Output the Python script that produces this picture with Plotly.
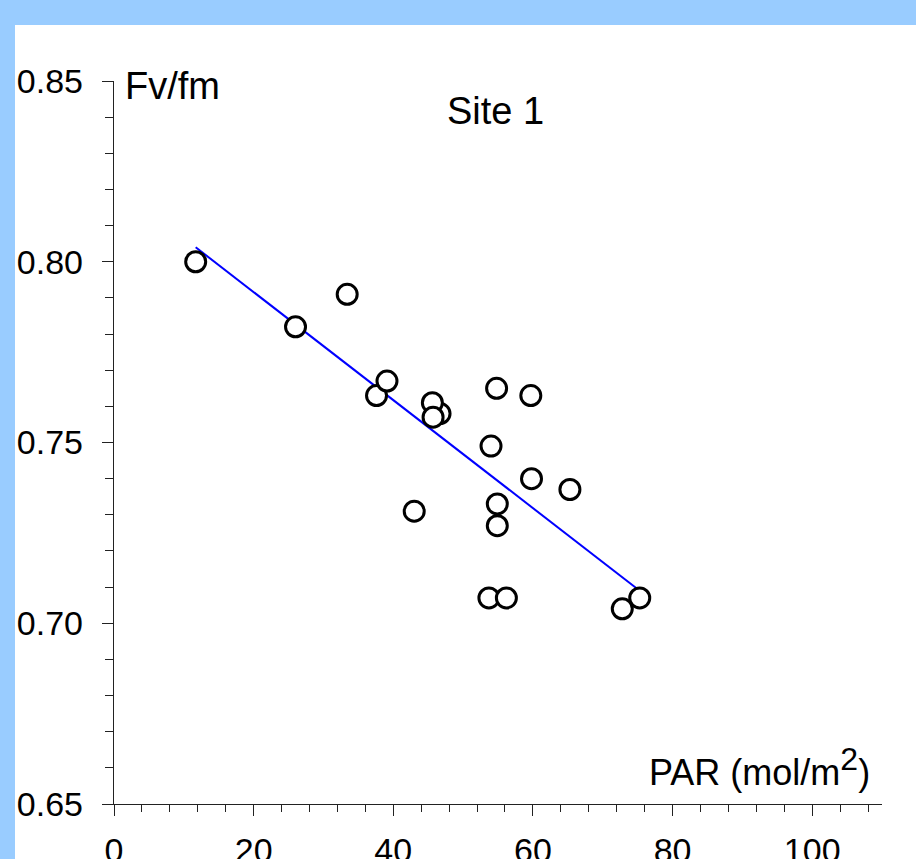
import plotly.graph_objects as go

# Data
par = [11.7, 26.0, 33.4, 37.6, 39.1, 46.7, 45.6, 45.7, 54.8, 59.7,
       54.0, 59.8, 65.3, 43.0, 54.9, 54.9, 53.7, 56.2, 75.3, 72.8]
fvfm = [0.800, 0.782, 0.791, 0.763, 0.767, 0.758, 0.761, 0.757, 0.765, 0.763,
        0.749, 0.740, 0.737, 0.731, 0.733, 0.727, 0.707, 0.707, 0.707, 0.704]

fit_par = [11.7, 75.3]
fit_fvfm = [0.804, 0.709]

x_tickvals = [0, 20, 40, 60, 80, 100]
y_tickvals = [0.65, 0.70, 0.75, 0.80, 0.85]
y_ticktext = ["0.65", "0.70", "0.75", "0.80", "0.85"]

FONT = "Liberation Sans, Arial, sans-serif"
BORDER = "#99CCFF"

W, H = 916, 859
ML, MR, MT, MB = 114, 34, 81, 55
PW = W - ML - MR
PH = H - MT - MB


def px2paper_x(px):
    return (px - ML) / PW


def px2paper_y(py):
    return (H - MB - py) / PH


fig = go.Figure()

fig.add_trace(go.Scatter(
    x=fit_par, y=fit_fvfm, mode="lines",
    line=dict(color="#0000FF", width=2),
    hoverinfo="skip", showlegend=False, cliponaxis=False,
))

fig.add_trace(go.Scatter(
    x=par, y=fvfm, mode="markers",
    marker=dict(symbol="circle", size=20, color="white",
                line=dict(color="black", width=3)),
    showlegend=False, cliponaxis=False,
))

# light blue frame bands (top and left)
fig.add_shape(type="rect", xref="paper", yref="paper",
              x0=px2paper_x(-5), x1=px2paper_x(W + 5),
              y0=px2paper_y(25), y1=px2paper_y(-5),
              fillcolor=BORDER, line=dict(width=0), layer="below")
fig.add_shape(type="rect", xref="paper", yref="paper",
              x0=px2paper_x(-5), x1=px2paper_x(15),
              y0=px2paper_y(H + 5), y1=px2paper_y(-5),
              fillcolor=BORDER, line=dict(width=0), layer="below")

fig.add_annotation(x=1.3, y=0.8486, xref="x", yref="y", text="Fv/fm",
                   showarrow=False, xanchor="left", yanchor="middle",
                   font=dict(family=FONT, size=38, color="black"))
fig.add_annotation(x=54.7, y=0.8417, xref="x", yref="y", text="Site 1",
                   showarrow=False, xanchor="center", yanchor="middle",
                   font=dict(family=FONT, size=38, color="black"))
fig.add_annotation(x=108.5, y=0.6602, xref="x", yref="y",
                   text="PAR (mol/m<sup><span style=\"font-size:32px\">2</span></sup>)",
                   showarrow=False, xanchor="right", yanchor="middle",
                   font=dict(family=FONT, size=36, color="black"))

axis_common = dict(
    showgrid=False, zeroline=False, showline=True, automargin=False,
    linecolor="#222222", linewidth=1.3,
    ticks="outside", tickcolor="#222222", tickwidth=1.3,
    tickfont=dict(family=FONT, size=34, color="black"),
    fixedrange=True,
)

fig.update_xaxes(
    range=[0, 110], tickmode="array", tickvals=x_tickvals,
    ticklen=11, ticklabelstandoff=5,
    minor=dict(dtick=4, tick0=0, ticks="outside", ticklen=7,
               tickcolor="#222222", tickwidth=1.3),
    **axis_common,
)
fig.update_yaxes(
    range=[0.65, 0.85], tickmode="array", tickvals=y_tickvals,
    ticktext=y_ticktext, ticklen=11, ticklabelstandoff=12,
    minor=dict(dtick=0.01, tick0=0.65, ticks="outside", ticklen=8,
               tickcolor="#222222", tickwidth=1.3),
    **axis_common,
)

fig.update_layout(
    width=W, height=H,
    margin=dict(l=ML, r=MR, t=MT, b=MB, pad=0, autoexpand=False),
    paper_bgcolor="white", plot_bgcolor="white",
    font=dict(family=FONT, color="black"),
    showlegend=False, hovermode=False,
)

fig.write_html(
    "out.html",
    config={"displayModeBar": False},
    post_script="document.body.style.margin='0';"
                "document.body.style.overflow='hidden';",
)
